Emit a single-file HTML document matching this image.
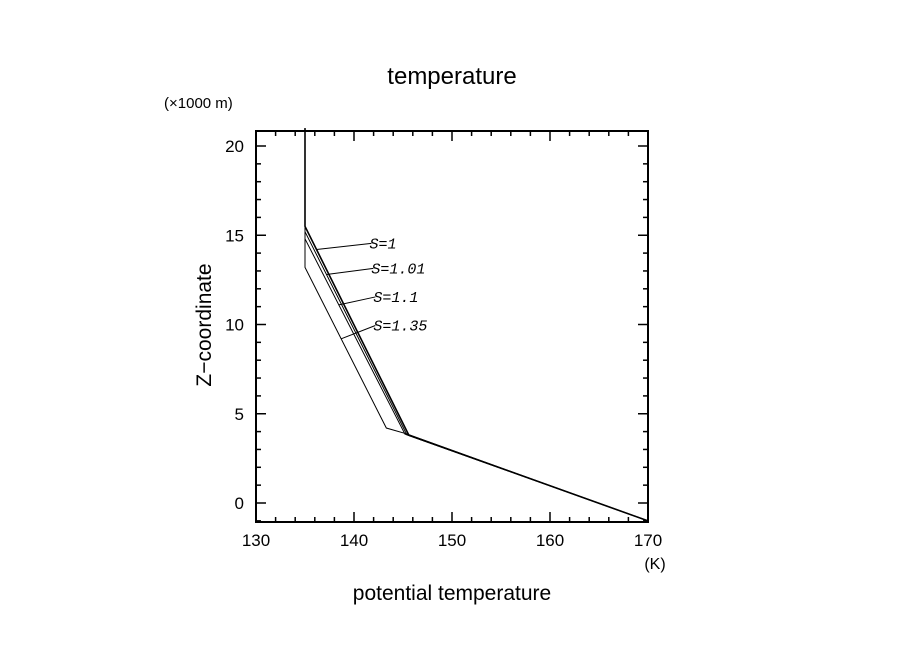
<!DOCTYPE html>
<html><head><meta charset="utf-8"><style>
body{margin:0;background:#fff;}
svg{display:block;font-family:"Liberation Sans",sans-serif;}
</style></head><body>
<svg id="chart" width="904" height="654" viewBox="0 0 904 654">
<text x="452" y="84" font-size="24" text-anchor="middle">temperature</text>
<text x="164" y="108" font-size="15">(×1000 m)</text>
<text x="211" y="325" font-size="21" text-anchor="middle" transform="rotate(-90 211 325)">Z−coordinate</text>
<text x="452" y="600" font-size="21" text-anchor="middle">potential temperature</text>
<text x="655" y="569" font-size="16" text-anchor="middle">(K)</text>
<g id="axes"></g>
<g id="series"></g>
<g id="labels"></g>
</svg>
<script>
const xTicks=[130,140,150,160,170];
const yTicks=[0,5,10,15,20];
const seriesNames=["S=1","S=1.01","S=1.1","S=1.35"];
const s1X=[170,145.6,135,135];
const s1Y=[-1,3.8,15.5,21];
const s101X=[170,145.4,135];
const s101Y=[-1,3.82,15.2];
const s11X=[170,145.2,135];
const s11Y=[-1,3.86,14.8];
const s135X=[170,145.4,143.3,135,135];
const s135Y=[-1,3.87,4.2,13.2,21];
const labelAnchorY=[14.2,12.8,11.1,9.2];
const labelTextY=[14.6,13.2,11.6,10.0];
const labelTextX=[142.8,143.0,143.2,143.2];

const L=256,R=648,T=131,B=522;
const X=v=>L+(v-130)/40*(R-L);
const Y=v=>503+(0-v)*17.85;
const NS="http://www.w3.org/2000/svg";
function mk(tag,attrs,parent){const e=document.createElementNS(NS,tag);for(const k in attrs)e.setAttribute(k,attrs[k]);parent.appendChild(e);return e;}
const axes=document.getElementById('axes');
const frame=mk('rect',{x:L,y:T,width:R-L,height:B-T,fill:'none',stroke:'#000','stroke-width':2},axes);


for(let v=130;v<=170;v+=2){const maj=v%10===0;const len=maj?10:5;
 mk('line',{x1:X(v),x2:X(v),y1:B,y2:B-len,stroke:'#000','stroke-width':1.5},axes);
 mk('line',{x1:X(v),x2:X(v),y1:T,y2:T+len,stroke:'#000','stroke-width':1.5},axes);}
for(let v=-1;v<=20;v+=1){const maj=v%5===0;const len=maj?10:5;
 mk('line',{x1:L,x2:L+len,y1:Y(v),y2:Y(v),stroke:'#000','stroke-width':1.5},axes);
 mk('line',{x1:R,x2:R-len,y1:Y(v),y2:Y(v),stroke:'#000','stroke-width':1.5},axes);}
xTicks.forEach(v=>{const t=mk('text',{x:X(v),y:B+24,'font-size':17,'text-anchor':'middle'},axes);t.textContent=v;
 
 });
yTicks.forEach(v=>{const t=mk('text',{x:L-12,y:Y(v)+6,'font-size':17,'text-anchor':'end'},axes);t.textContent=v;
 
 });
const series=document.getElementById('series');
const all=[[s1X,s1Y],[s101X,s101Y],[s11X,s11Y],[s135X,s135Y]];
all.forEach((s,i)=>{const pts=s[0].map((x,j)=>X(x)+','+Y(s[1][j])).join(' ');
 const p=mk('polyline',{points:pts,fill:'none',stroke:'#000','stroke-width':i===0?1.6:1},series);
 
 });
function xAt(s,y){const xs=s[0],ys=s[1];for(let j=0;j<xs.length-1;j++){const a=ys[j],b=ys[j+1];if((y-a)*(y-b)<=0&&a!==b)return xs[j]+(xs[j+1]-xs[j])*(y-a)/(b-a);}return xs[0];}
const labels=document.getElementById('labels');
seriesNames.forEach((n,i)=>{const ly=labelAnchorY[i];const lx=xAt(all[i],ly);
 const ln=mk('line',{x1:X(lx),y1:Y(ly),x2:X(labelTextX[i])-10,y2:Y(labelTextY[i])+1,stroke:'#000','stroke-width':1},labels);
 
 
 const t=mk('text',{x:X(labelTextX[i])-12,y:Y(labelTextY[i])+6,'font-size':15,'font-style':'italic','font-family':'Liberation Mono, monospace'},labels);
 t.textContent=n;
 
 });
</script>
</body></html>
